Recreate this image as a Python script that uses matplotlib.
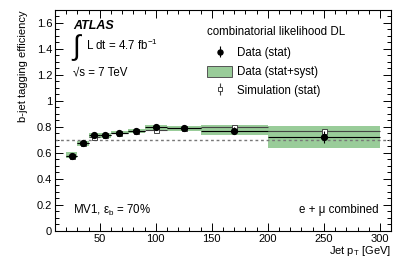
import numpy as np
import matplotlib.pyplot as plt
from matplotlib.patches import Patch
from matplotlib.ticker import MultipleLocator

plt.rcParams['font.family'] = ['Liberation Sans', 'DejaVu Sans']
plt.rcParams['mathtext.fontset'] = 'custom'
plt.rcParams['mathtext.rm'] = 'Liberation Sans'
plt.rcParams['mathtext.it'] = 'Liberation Sans:italic'

# jet pT bins [GeV]
bin_lo = [20, 30, 40, 50, 60, 75, 90, 110, 140, 200]
bin_hi = [30, 40, 50, 60, 75, 90, 110, 140, 200, 300]
pt = [25, 35, 45, 55, 67.5, 82.5, 100, 125, 170, 250]

eff_data = [0.58, 0.675, 0.735, 0.735, 0.755, 0.77, 0.797, 0.79, 0.772, 0.722]
err_stat = [0.012, 0.011, 0.01, 0.009, 0.009, 0.009, 0.01, 0.011, 0.025, 0.045]
syst_lo = [0.558, 0.655, 0.715, 0.716, 0.742, 0.756, 0.778, 0.772, 0.735, 0.635]
syst_hi = [0.607, 0.695, 0.757, 0.756, 0.771, 0.786, 0.815, 0.81, 0.815, 0.81]

eff_sim = [0.58, 0.675, 0.722, 0.735, 0.755, 0.77, 0.778, 0.79, 0.797, 0.772]
err_sim = [0.006, 0.006, 0.006, 0.006, 0.006, 0.006, 0.007, 0.008, 0.01, 0.012]

pt = np.array(pt)
lo = np.array(bin_lo)
hi = np.array(bin_hi)
xerr = [pt - lo, hi - pt]

fig = plt.figure(figsize=(4.07, 2.61), dpi=100)
ax = fig.add_axes([0.135, 0.115, 0.826, 0.847])

band_col = '#99cc99'
for i in range(len(pt)):
    ax.fill_between([lo[i], hi[i]], syst_lo[i], syst_hi[i], color=band_col, lw=0, zorder=1)

ax.axhline(0.7, color='#777777', ls=(0, (2, 2)), lw=1.0, zorder=2)

sim_kw = dict(fmt='s', ms=3.6, mfc='white', mec='#444444', mew=0.7, ecolor='#444444',
              elinewidth=0.8, capsize=0)
dat_kw = dict(fmt='o', ms=4.2, color='black', ecolor='black', elinewidth=0.8, capsize=0)
ax.errorbar(pt, eff_sim, xerr=xerr, yerr=err_sim, zorder=3, **sim_kw)
ax.errorbar(pt, eff_data, xerr=xerr, yerr=err_stat, zorder=4, **dat_kw)

# legend proxies (vertical bar only, like the reference)
dat_h = ax.errorbar([], [], yerr=[], **dict(dat_kw, ms=3.6))
sim_h = ax.errorbar([], [], yerr=[], **dict(sim_kw, ms=3.2))

ax.set_xlim(10, 310)
ax.set_ylim(0, 1.7)
ax.xaxis.set_minor_locator(MultipleLocator(10))
ax.yaxis.set_minor_locator(MultipleLocator(0.05))
ax.set_yticks([0, 0.2, 0.4, 0.6, 0.8, 1.0, 1.2, 1.4, 1.6])
ax.set_yticklabels(['0', '0.2', '0.4', '0.6', '0.8', '1', '1.2', '1.4', '1.6'])
ax.set_xticks([50, 100, 150, 200, 250, 300])
ax.tick_params(which='both', direction='in', top=True, right=True, labelsize=8, width=0.7, pad=2)
ax.tick_params(which='major', length=6)
ax.tick_params(which='minor', length=3)
for s in ax.spines.values():
    s.set_linewidth(0.8)

ax.set_ylabel('b-jet tagging efficiency', fontsize=8, loc='top', labelpad=6)
ax.set_xlabel(r'Jet p$_{\mathrm{T}}$ [GeV]', fontsize=8, loc='right', labelpad=0)

# annotations
ax.text(0.054, 0.925, 'ATLAS', transform=ax.transAxes, fontsize=9, fontweight='bold',
        fontstyle='italic', va='center')
ax.text(0.048, 0.83, r'$\int$', transform=ax.transAxes, fontsize=20, va='center')
ax.text(0.092, 0.838, r'L dt = 4.7 fb$^{-1}$', transform=ax.transAxes, fontsize=8.3, va='center')
ax.text(0.054, 0.717, '\u221as = 7 TeV', transform=ax.transAxes, fontsize=8.3, va='center')
ax.text(0.054, 0.095, 'MV1, \u03b5$_{\\mathrm{b}}$ = 70%', transform=ax.transAxes, fontsize=8.3, va='center')
ax.text(0.962, 0.095, 'e + \u03bc combined', transform=ax.transAxes, fontsize=8.3, va='center', ha='right')

handles = [dat_h, Patch(facecolor=band_col, edgecolor='#555555', lw=0.7), sim_h]
labels = ['Data (stat)', 'Data (stat+syst)', 'Simulation (stat)']
leg = ax.legend(handles, labels, title='combinatorial likelihood DL', loc='upper left',
                bbox_to_anchor=(0.452, 0.925), frameon=False, fontsize=8.3, title_fontsize=8.3,
                handlelength=2.2, handleheight=1.1, handletextpad=0.45, labelspacing=0.55,
                borderpad=0, borderaxespad=0)
leg._legend_box.align = 'left'
leg._legend_box.sep = 6

fig.savefig('out.png', dpi=100)
